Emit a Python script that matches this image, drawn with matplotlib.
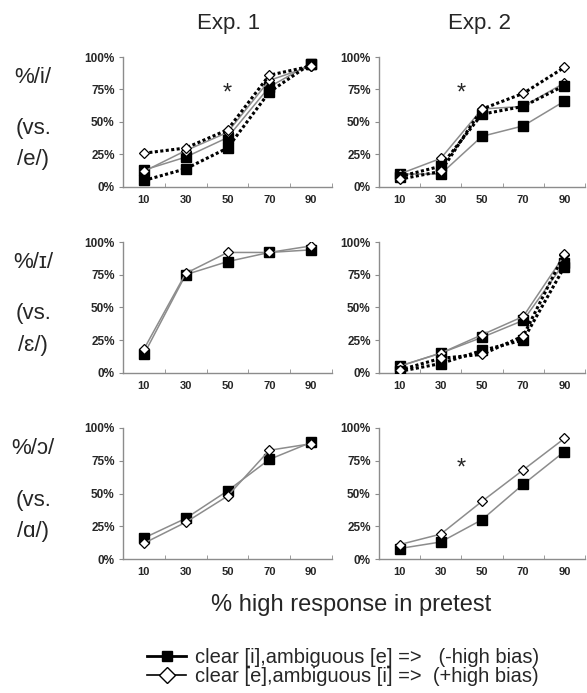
import numpy as np
import matplotlib.pyplot as plt
from matplotlib.lines import Line2D

plt.rcParams['font.family'] = ['Liberation Sans', 'DejaVu Sans']

pretest = ['10', '30', '50', '70', '90']

# Exp. 1 (solid = sq/di, dotted = sq_dot/di_dot)
e1_i_sq = [13, 23, 38, 77, 95]
e1_i_di = [12, 28, 42, 82, 93]
e1_i_sq_dot = [5, 14, 30, 73, 95]
e1_i_di_dot = [26, 30, 44, 86, 93]
e1_I_sq = [14, 75, 85, 92, 94]
e1_I_di = [18, 76, 92, 92, 97]
e1_o_sq = [16, 31, 52, 76, 89]
e1_o_di = [12, 28, 48, 83, 88]

# Exp. 2
e2_i_sq = [10, 10, 39, 47, 66]
e2_i_di = [10, 22, 60, 62, 80]
e2_i_sq_dot = [8, 16, 56, 62, 78]
e2_i_di_dot = [6, 12, 60, 72, 92]
e2_I_sq = [5, 15, 27, 40, 84]
e2_I_di = [5, 15, 29, 43, 90]
e2_I_sq_dot = [1, 7, 17, 25, 81]
e2_I_di_dot = [2, 11, 14, 28, 91]
e2_o_sq = [8, 13, 30, 57, 82]
e2_o_di = [11, 19, 44, 68, 92]

# asterisks: (row, col, x position in category units, y)
stars = [(0, 0, 3.0, 72), (0, 1, 2.5, 72), (2, 1, 2.5, 69)]

row_top = ['%/i/', '%/ɪ/', '%/ɔ/']
row_bot = ['/e/)', '/ɛ/)', '/ɑ/)']

panels = {
    (0, 0): (e1_i_sq, e1_i_di, e1_i_sq_dot, e1_i_di_dot),
    (1, 0): (e1_I_sq, e1_I_di, None, None),
    (2, 0): (e1_o_sq, e1_o_di, None, None),
    (0, 1): (e2_i_sq, e2_i_di, e2_i_sq_dot, e2_i_di_dot),
    (1, 1): (e2_I_sq, e2_I_di, e2_I_sq_dot, e2_I_di_dot),
    (2, 1): (e2_o_sq, e2_o_di, None, None),
}

W, H = 587, 693
fig = plt.figure(figsize=(W / 100, H / 100), dpi=100)

col_x = [(123, 209), (379, 206)]
row_y = [(57, 187), (242, 372.7), (428, 559)]
txt = '#262626'
grey = '#8c8c8c'

sq_kw = dict(marker='s', markersize=7.5, markerfacecolor='black', markeredgecolor='black')
di_kw = dict(marker='D', markersize=5, markerfacecolor='white', markeredgecolor='black',
             markeredgewidth=0.9)

x = np.arange(1, 6)
axes = {}
for (r, c), (sq, di, sqd, did) in panels.items():
    x0, w = col_x[c]
    top, bot = row_y[r]
    ax = fig.add_axes([x0 / W, 1 - bot / H, w / W, (bot - top) / H])
    axes[(r, c)] = ax
    ax.plot(x, sq, color=grey, lw=1.1, **sq_kw, zorder=3)
    ax.plot(x, di, color=grey, lw=1.1, **di_kw, zorder=3)
    if sqd is not None:
        ax.plot(x, sqd, color='black', lw=2.2, ls=(0, (1, 0.8)), **sq_kw, zorder=4)
        ax.plot(x, did, color='black', lw=2.2, ls=(0, (1, 0.8)), **di_kw, zorder=4)
    ax.set_xlim(0.5, 5.5)
    ax.set_ylim(0, 100)
    ax.set_xticks(x)
    ax.set_xticklabels(pretest, fontsize=8, fontweight='bold', color=txt)
    ax.set_xticks(np.arange(0.5, 6, 1), minor=True)
    ax.tick_params(axis='x', which='major', length=0, pad=6)
    ax.tick_params(axis='x', which='minor', direction='in', length=3, color=grey)
    ax.set_yticks([0, 25, 50, 75, 100])
    ax.set_yticklabels(['0%', '25%', '50%', '75%', '100%'], fontsize=8.5,
                       fontweight='bold', color=txt)
    ax.tick_params(axis='y', direction='out', length=3, color=grey, pad=3)
    for s in ['top', 'right']:
        ax.spines[s].set_visible(False)
    for s in ['left', 'bottom']:
        ax.spines[s].set_color(grey)
        ax.spines[s].set_linewidth(1)
    ax.set_facecolor('none')

for r, c, sx, sy in stars:
    axes[(r, c)].text(sx, sy, '*', fontsize=17, ha='center', va='center', color=txt)

fig.text(229 / W, 1 - 23 / H, 'Exp. 1', fontsize=16, ha='center', va='center', color=txt)
fig.text(480 / W, 1 - 23 / H, 'Exp. 2', fontsize=16, ha='center', va='center', color=txt)

for r in range(3):
    ax = axes[(r, 0)]
    ax.text(-0.43, 0.846, row_top[r], transform=ax.transAxes, fontsize=16,
            ha='center', va='center', color=txt)
    ax.text(-0.43, 0.45, '(vs.', transform=ax.transAxes, fontsize=16,
            ha='center', va='center', color=txt)
    ax.text(-0.43, 0.21, row_bot[r], transform=ax.transAxes, fontsize=16,
            ha='center', va='center', color=txt)

fig.text(351 / W, 1 - 605 / H, '% high response in pretest', fontsize=17,
         ha='center', va='center', color=txt)

handles = [
    Line2D([], [], color='black', lw=2, **sq_kw),
    Line2D([], [], color='black', lw=1.2, marker='D', markersize=8,
           markerfacecolor='white', markeredgecolor='black'),
]
labels = ['clear [i],ambiguous [e] =>   (-high bias)',
          'clear [e],ambiguous [i] =>  (+high bias)']
fig.legend(handles, labels, loc='upper left', bbox_to_anchor=(147 / W, 1 - 648 / H),
           frameon=False, fontsize=14.5, handlelength=1.95, handletextpad=0.45,
           labelspacing=0.0, borderpad=0, borderaxespad=0, labelcolor=txt)

fig.savefig('out.png', dpi=100)
